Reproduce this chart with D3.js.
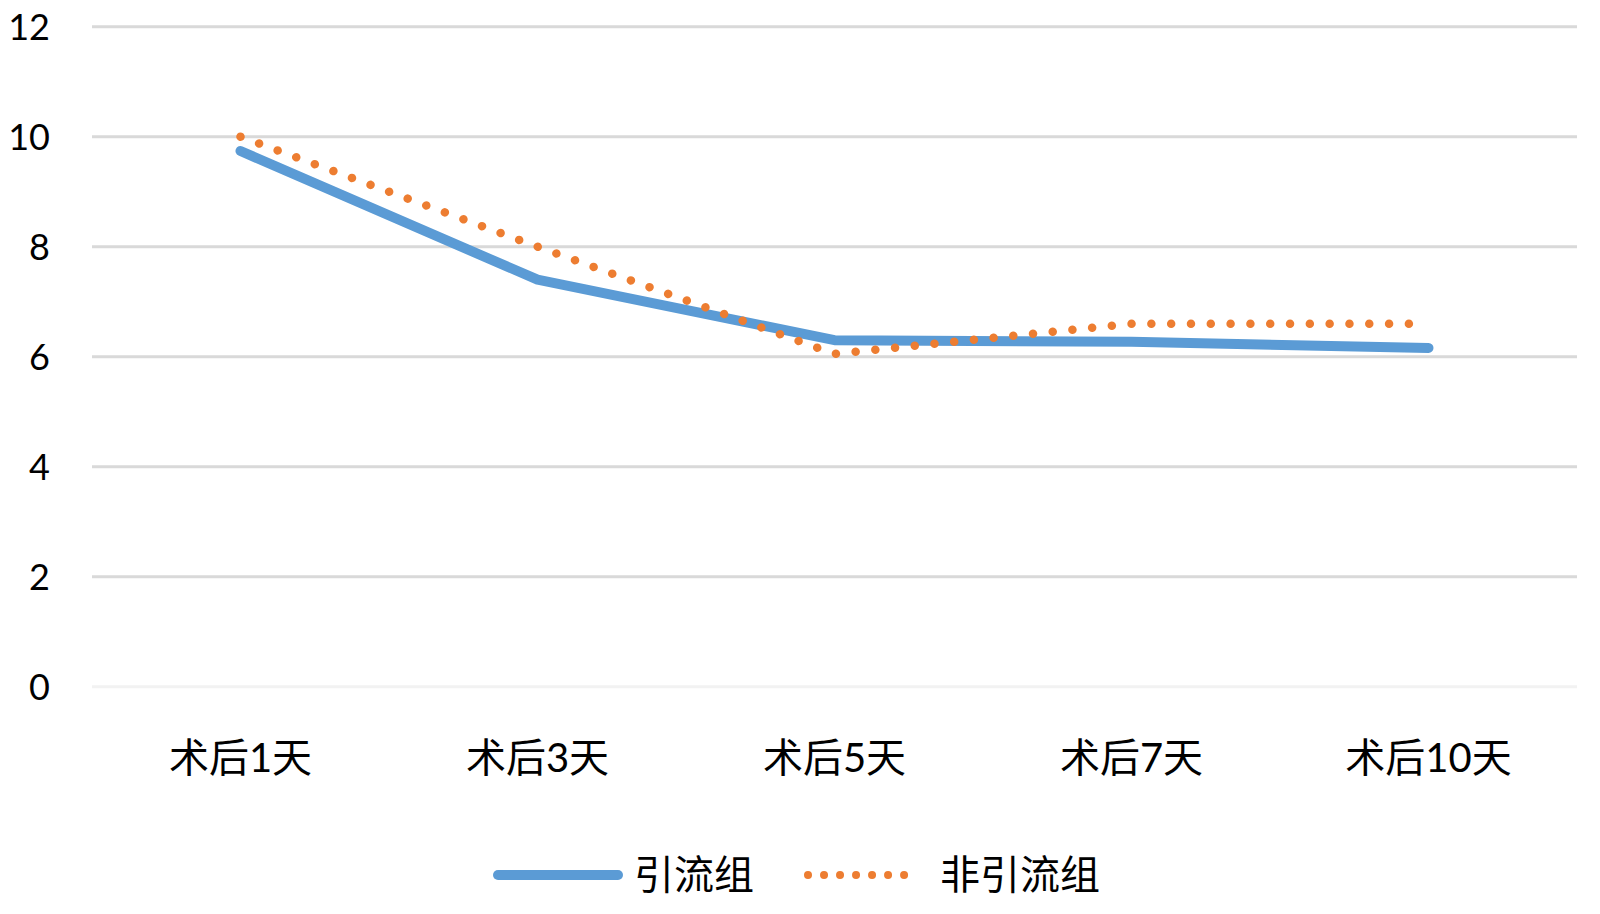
<!DOCTYPE html>
<html><head><meta charset="utf-8">
<script src="https://cdn.jsdelivr.net/npm/d3@7"></script>
<style>body{margin:0;background:#fff}svg{display:block}</style>
</head><body>
<script>
const categories = ["术后1天","术后3天","术后5天","术后7天","术后10天"];
const drainGroup = [9.74, 7.40, 6.30, 6.27, 6.16];
const noDrainGroup = [10.0, 8.0, 6.05, 6.6, 6.6];
const seriesNames = ["引流组","非引流组"];
const yTicks = [0,2,4,6,8,10,12];

const W = 1600, H = 914;
const svg = d3.select("body").append("svg").attr("width", W).attr("height", H);
const x = d3.scaleBand().domain(categories).range([92, 1577]);
const y = d3.scaleLinear().domain([0, 12]).range([686.7, 26.7]);
const font = "Lato, 'Noto Sans CJK SC', sans-serif";

// gridlines
svg.append("g").selectAll("line").data(yTicks).join("line")
  .attr("x1", 92).attr("x2", 1577)
  .attr("y1", d => y(d)).attr("y2", d => y(d))
  .attr("stroke", d => d === 0 ? "#f2f2f2" : "#d9d9d9").attr("stroke-width", 3);

// y axis labels
const yAxis = d3.axisLeft(y).tickValues(yTicks).tickSize(0).tickPadding(0);
const yg = svg.append("g").attr("transform", "translate(50,0)").call(yAxis);
yg.select(".domain").remove();
yg.selectAll("text").attr("font-family", font).attr("font-size", 36).attr("fill", "#000").attr("dy", "0.35em");

// x axis labels
const xAxis = d3.axisBottom(x).tickSize(0).tickPadding(0);
const xg = svg.append("g").attr("transform", "translate(0,772)").call(xAxis);
xg.select(".domain").remove();
xg.selectAll("text").attr("font-family", font).attr("font-size", 40).attr("fill", "#000").attr("dy", "0");

const cx = d => x(d) + x.bandwidth() / 2;
const line = d3.line().x(d => cx(d[0])).y(d => y(d[1]));

svg.append("path").datum(categories.map((c, i) => [c, drainGroup[i]]))
  .attr("d", line).attr("fill", "none").attr("stroke", "#5b9bd5")
  .attr("stroke-width", 10).attr("stroke-linecap", "round").attr("stroke-linejoin", "round");

svg.append("path").datum(categories.map((c, i) => [c, noDrainGroup[i]]))
  .attr("d", line).attr("fill", "none").attr("stroke", "#ed7d31")
  .attr("stroke-width", 8.5).attr("stroke-linecap", "round")
  .attr("stroke-dasharray", "0.01 19.8");

// legend
const ly = 875;
const lg = svg.append("g");
lg.append("line").attr("x1", 498).attr("x2", 618).attr("y1", ly).attr("y2", ly)
  .attr("stroke", "#5b9bd5").attr("stroke-width", 10).attr("stroke-linecap", "round");
lg.append("text").attr("x", 634).attr("y", ly).attr("dy", "0.35em")
  .attr("font-family", font).attr("font-size", 40).text(seriesNames[0]);
lg.append("line").attr("x1", 808).attr("x2", 920).attr("y1", ly).attr("y2", ly)
  .attr("stroke", "#ed7d31").attr("stroke-width", 8).attr("stroke-linecap", "round")
  .attr("stroke-dasharray", "0.01 16");
lg.append("text").attr("x", 940).attr("y", ly).attr("dy", "0.35em")
  .attr("font-family", font).attr("font-size", 40).text(seriesNames[1]);
</script>
</body></html>
